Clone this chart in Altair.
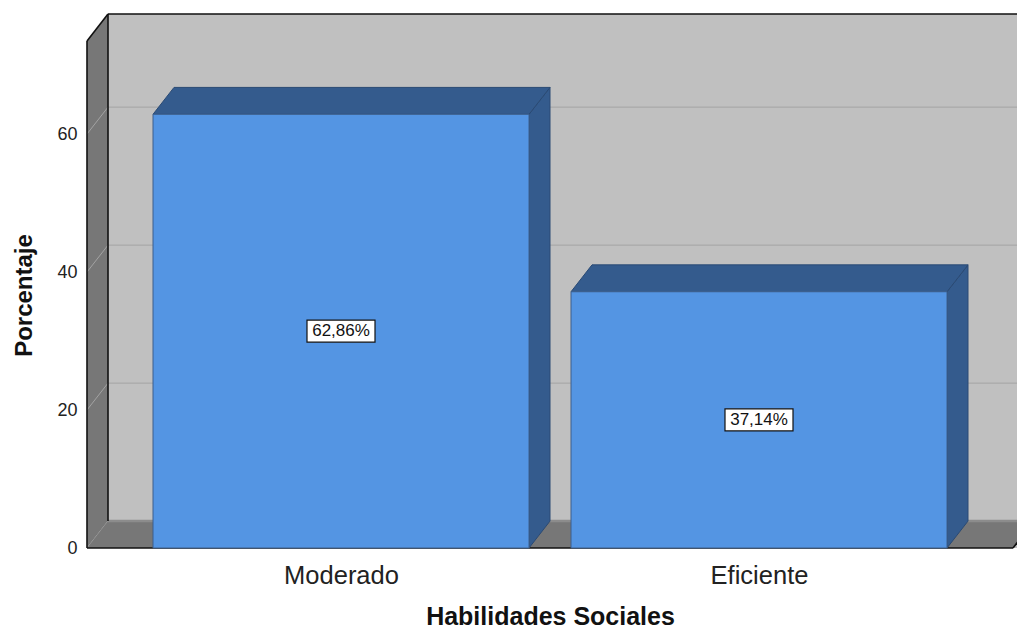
import altair as alt
import pandas as pd

# ---- data ----
categories = ["Moderado", "Eficiente"]
percentages = [62.86, 37.14]
value_labels = ["62,86%", "37,14%"]
y_ticks = [0, 20, 40, 60]
x_title = "Habilidades Sociales"
y_title = "Porcentaje"

# ---- geometry / style (in scale units) ----
X_MAX = 930.0          # x units == pixels of the plot area
BAR_LEFT = [66.0, 484.0]
BAR_W = 376.0
DX = 21.0              # depth offset along x
DY = 3.9               # depth offset along y (percent units)
Y_FRONT_TOP = 73.5
Y_MAX = Y_FRONT_TOP + DY
FLOOR_RIGHT = 926.0
BOX_HW = 34.0
BOX_HH = 1.6

FONT = "Liberation Sans"

xs = alt.Scale(domain=[0, X_MAX], nice=False, zero=False)
ys = alt.Scale(domain=[0, Y_MAX], nice=False, zero=False)

centers = [l + BAR_W / 2 for l in BAR_LEFT]
label_expr = "''"
for c, name in reversed(list(zip(centers, categories))):
    label_expr = f"(abs(datum.value - {c}) < 1 ? '{name}' : {label_expr})"

x_axis = alt.Axis(values=centers, labelExpr=label_expr, grid=False, ticks=False,
                  domain=False, labelFont=FONT, labelFontSize=25.5, labelColor="#222222",
                  labelBaseline="alphabetic", labelPadding=35,
                  titleFont=FONT, titleFontSize=25, titleFontWeight="bold",
                  titleColor="#111111", titleX=463, titleY=76,
                  titleBaseline="alphabetic", titleAlign="center")
y_axis = alt.Axis(values=y_ticks, grid=False, ticks=False, domain=False,
                  labelFont=FONT, labelFontSize=18, labelColor="#222222",
                  labelPadding=10,
                  titleFont=FONT, titleFontSize=24, titleFontWeight="bold",
                  titleColor="#111111", titleAngle=270, titleX=-56, titleY=281,
                  titleBaseline="alphabetic", titleAlign="center")


def X(field, **kw):
    return alt.X(f"{field}:Q", scale=xs, axis=x_axis, title=x_title, **kw)


def Y(field, **kw):
    return alt.Y(f"{field}:Q", scale=ys, axis=y_axis, title=y_title, **kw)


# back wall
back = pd.DataFrame({"x": [DX], "x2": [X_MAX], "y": [0.0], "y2": [Y_MAX]})
back_layer = alt.Chart(back).mark_rect(color="#c0c0c0").encode(
    x=X("x"), x2="x2:Q", y=Y("y"), y2="y2:Q")

# back wall grid lines
bgrid = pd.DataFrame({"x": [DX] * 3, "x2": [X_MAX] * 3,
                      "y": [t + DY for t in y_ticks[1:]], "y2": [t + DY for t in y_ticks[1:]]})
bgrid_layer = alt.Chart(bgrid).mark_rule(color="#a9a9a9", strokeWidth=1.2).encode(
    x=X("x"), x2="x2:Q", y=Y("y"), y2="y2:Q")

# left wall
lwall = pd.DataFrame({"x": [0.0, DX], "y": [0.0, DY], "y2": [Y_FRONT_TOP, Y_MAX]})
lwall_layer = alt.Chart(lwall).mark_area(color="#777777", orient="vertical").encode(
    x=X("x"), y=Y("y", stack=False), y2="y2:Q")

lgrid = pd.DataFrame({"x": [0.0] * 4, "x2": [DX] * 4,
                      "y": [float(t) for t in y_ticks], "y2": [t + DY for t in y_ticks]})
lgrid_layer = alt.Chart(lgrid).mark_rule(color="#a3a3a3", strokeWidth=1).encode(
    x=X("x"), x2="x2:Q", y=Y("y"), y2="y2:Q")

# floor
floor = pd.DataFrame({"y": [0.0, DY], "x": [0.0, DX], "x2": [FLOOR_RIGHT, FLOOR_RIGHT + DX]})
floor_layer = alt.Chart(floor).mark_area(color="#777777", orient="horizontal", clip=True).encode(
    y=Y("y"), x=X("x", stack=False), x2="x2:Q")

floor_back = pd.DataFrame({"x": [DX], "x2": [X_MAX], "y": [DY], "y2": [DY]})
floor_back_layer = alt.Chart(floor_back).mark_rule(color="#8c8c8c", strokeWidth=2.5).encode(
    x=X("x"), x2="x2:Q", y=Y("y"), y2="y2:Q")

# black outlines
outl = pd.DataFrame({
    "x":  [0.0, 0.0, DX, DX, 0.0, FLOOR_RIGHT],
    "y":  [0.0, Y_FRONT_TOP, DY, Y_MAX, 0.0, 0.0],
    "x2": [0.0, DX, DX, X_MAX, FLOOR_RIGHT, FLOOR_RIGHT + DX],
    "y2": [Y_FRONT_TOP, Y_MAX, Y_MAX, Y_MAX, 0.0, DY],
})
outl_layer = alt.Chart(outl).mark_rule(color="#111111", strokeWidth=1.6).encode(
    x=X("x"), x2="x2:Q", y=Y("y"), y2="y2:Q")

# bars
fronts = pd.DataFrame({"cat": categories,
                       "x": BAR_LEFT, "x2": [l + BAR_W for l in BAR_LEFT],
                       "y": [0.0, 0.0], "y2": percentages})
front_layer = alt.Chart(fronts).mark_rect(color="#5495e3", stroke="#3d5f8c", strokeWidth=1).encode(
    x=X("x"), x2="x2:Q", y=Y("y"), y2="y2:Q")

side_rows, top_rows = [], []
for cat, l, v in zip(categories, BAR_LEFT, percentages):
    r = l + BAR_W
    side_rows += [{"cat": cat, "x": r, "y": 0.0, "y2": v},
                  {"cat": cat, "x": r + DX, "y": DY, "y2": v + DY}]
    top_rows += [{"cat": cat, "y": v, "x": l, "x2": r},
                 {"cat": cat, "y": v + DY, "x": l + DX, "x2": r + DX}]
sides = pd.DataFrame(side_rows)
tops = pd.DataFrame(top_rows)

side_layer = alt.Chart(sides).mark_area(color="#345b8d", stroke="#2a4a74", strokeWidth=1,
                                        orient="vertical").encode(
    x=X("x"), y=Y("y", stack=False), y2="y2:Q", detail="cat:N")
top_layer = alt.Chart(tops).mark_area(color="#345b8d", stroke="#2a4a74", strokeWidth=1,
                                      orient="horizontal").encode(
    y=Y("y"), x=X("x", stack=False), x2="x2:Q", detail="cat:N")

# value labels
labs = pd.DataFrame({"cat": categories, "label": value_labels,
                     "cx": centers, "cy": [v / 2 for v in percentages]})
labs["bx"] = labs["cx"] - BOX_HW
labs["bx2"] = labs["cx"] + BOX_HW
labs["by"] = labs["cy"] - BOX_HH
labs["by2"] = labs["cy"] + BOX_HH
box_layer = alt.Chart(labs).mark_rect(fill="white", stroke="#111111", strokeWidth=1.2).encode(
    x=X("bx"), x2="bx2:Q", y=Y("by"), y2="by2:Q")
text_layer = alt.Chart(labs).mark_text(font=FONT, fontSize=17, color="#111111").encode(
    x=X("cx"), y=Y("cy"), text="label:N")

chart = alt.layer(
    back_layer, bgrid_layer, lwall_layer, lgrid_layer, floor_layer, floor_back_layer,
    outl_layer, side_layer, top_layer, front_layer, box_layer, text_layer
).properties(
    width=930, height=534,
    padding={"left": 79, "top": 6, "right": 0, "bottom": 80},
    autosize=alt.AutoSizeParams(type="none"),
    background="white",
).configure_view(stroke=None)

chart.save("out.html", embed_options={"renderer": "svg", "actions": False})
